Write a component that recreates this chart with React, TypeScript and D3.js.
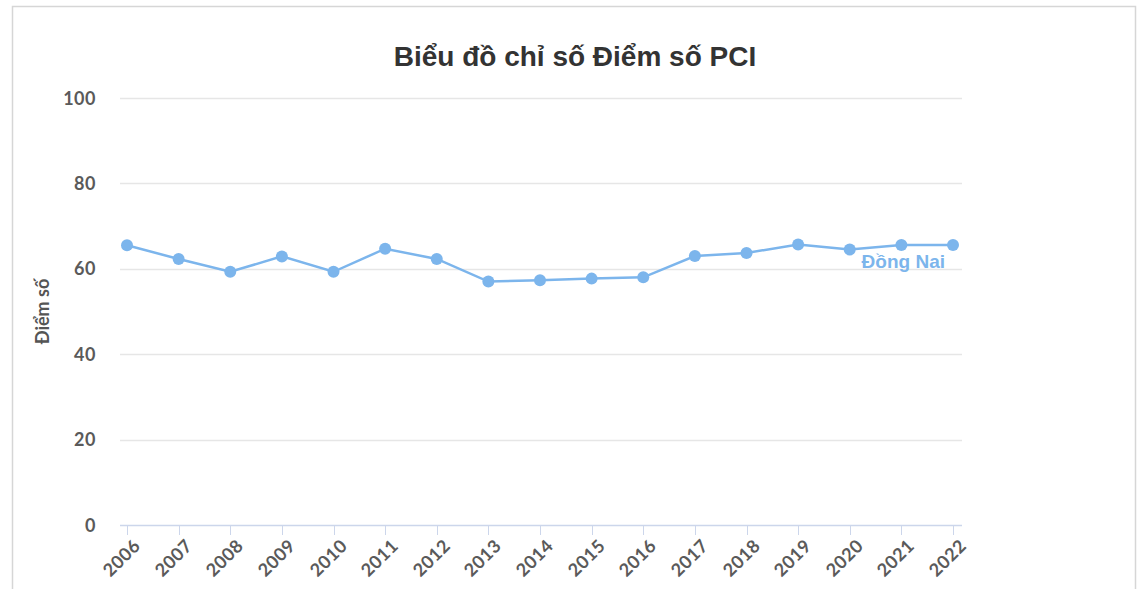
import { useEffect, useRef } from 'react';
import * as d3 from 'd3';

const years = ['2006', '2007', '2008', '2009', '2010', '2011', '2012', '2013', '2014', '2015', '2016', '2017', '2018', '2019', '2020', '2021', '2022'];
const scores = [65.5, 62.3, 59.3, 62.9, 59.3, 64.7, 62.3, 57.0, 57.3, 57.7, 58.0, 63.0, 63.7, 65.7, 64.5, 65.6, 65.6];
const yTicks = [0, 20, 40, 60, 80, 100];
const seriesName = 'Đồng Nai';

export default function App() {
  const svgRef = useRef<SVGSVGElement | null>(null);
  const width = 1148;
  const height = 589;

  useEffect(() => {
    const svg = d3.select(svgRef.current);
    svg.selectAll('*').remove();

    const left = 120, right = 962, top = 98, bottom = 525;

    // chart frame
    svg.append('rect')
      .attr('x', 12.5).attr('y', 6.5)
      .attr('width', 1123).attr('height', 600)
      .attr('fill', '#fff')
      .attr('stroke', '#d6d6d6')
      .attr('stroke-width', 1.5);

    const x = d3.scalePoint<string>().domain(years).range([127, 953]);
    const y = d3.scaleLinear().domain([0, 100]).range([bottom, top]);

    const labelFont = 'Lato, "Open Sans", sans-serif';

    // grid + y labels
    yTicks.forEach(t => {
      if (t > 0) {
        svg.append('line')
          .attr('x1', left).attr('x2', right)
          .attr('y1', Math.round(y(t)) + 0.5).attr('y2', Math.round(y(t)) + 0.5)
          .attr('stroke', '#e6e6e6').attr('stroke-width', 1.5);
      }
      svg.append('text')
        .attr('x', 96).attr('y', y(t) + 6.5)
        .attr('text-anchor', 'end')
        .attr('fill', '#5a5a5a')
        .style('font-family', labelFont)
        .style('font-size', '18px')
        .style('font-weight', '700')
        .style('letter-spacing', '0.5px')
        .text(String(t));
    });

    // x axis line and ticks
    svg.append('line')
      .attr('x1', left).attr('x2', right)
      .attr('y1', bottom + 0.5).attr('y2', bottom + 0.5)
      .attr('stroke', '#ccd6eb').attr('stroke-width', 1.5);

    years.forEach(yr => {
      const px = Math.round(x(yr)!) + 0.5;
      svg.append('line')
        .attr('x1', px).attr('x2', px)
        .attr('y1', bottom).attr('y2', bottom + 10)
        .attr('stroke', '#ccd6eb').attr('stroke-width', 1);
      svg.append('text')
        .attr('transform', `translate(${px + 5},${bottom + 13}) rotate(-45)`)
        .attr('text-anchor', 'end')
        .attr('dy', '0.7em')
        .attr('fill', '#5a5a5a')
        .style('font-family', labelFont)
        .style('font-size', '18px')
        .style('font-weight', '700')
        .style('letter-spacing', '0.5px')
        .text(yr);
    });

    // y axis title
    svg.append('text')
      .attr('transform', `translate(49,${(top + bottom) / 2}) rotate(-90)`)
      .attr('text-anchor', 'middle')
      .attr('fill', '#555')
      .style('font-family', labelFont)
      .style('font-size', '18px')
      .style('font-weight', '700')
      .text('Điểm số');

    // title
    svg.append('text')
      .attr('x', 575).attr('y', 66)
      .attr('text-anchor', 'middle')
      .attr('fill', '#333')
      .style('font-family', '"Liberation Sans", Arial, sans-serif')
      .style('font-size', '28px')
      .style('font-weight', '700')
      .text('Biểu đồ chỉ số Điểm số PCI');

    // series
    const line = d3.line<number>()
      .x((_, i) => x(years[i])!)
      .y(d => y(d));

    svg.append('path')
      .datum(scores)
      .attr('d', line)
      .attr('fill', 'none')
      .attr('stroke', '#7cb5ec')
      .attr('stroke-width', 2.5);

    svg.selectAll('circle.pt')
      .data(scores)
      .join('circle')
      .attr('class', 'pt')
      .attr('cx', (_, i) => x(years[i])!)
      .attr('cy', d => y(d))
      .attr('r', 6)
      .attr('fill', '#7cb5ec');

    svg.append('text')
      .attr('x', 945).attr('y', 268)
      .attr('text-anchor', 'end')
      .attr('fill', '#7cb5ec')
      .style('font-family', '"Liberation Sans", Arial, sans-serif')
      .style('font-size', '19px')
      .style('font-weight', '700')
      .text(seriesName);
  }, []);

  return (
    <svg ref={svgRef} width={width} height={height}
      style={{ position: 'absolute', left: 0, top: 0, background: '#fff' }} />
  );
}
